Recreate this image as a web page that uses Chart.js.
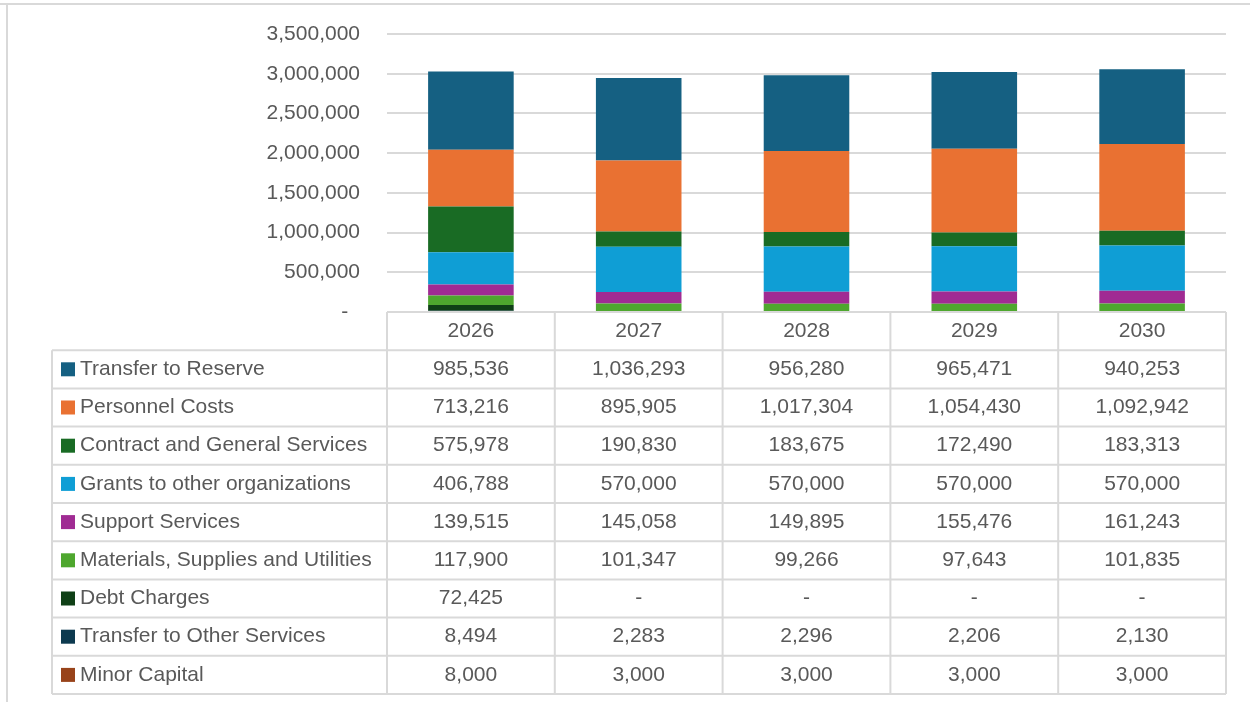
<!DOCTYPE html>
<html>
<head>
<meta charset="utf-8">
<script src="https://cdn.jsdelivr.net/npm/chart.js@4.4.1/dist/chart.umd.min.js"></script>
<style>
  html, body { margin: 0; padding: 0; background: #fff; }
  #wrap { width: 1250px; height: 702px; position: relative; }
</style>
</head>
<body>
<div id="wrap"><canvas id="myChart" width="1250" height="702"></canvas></div>
<script>
const years = ["2026", "2027", "2028", "2029", "2030"];
const yTicks = [0, 500000, 1000000, 1500000, 2000000, 2500000, 3000000, 3500000];

// table order (top row first) = top of stack first
const seriesNames = [
  "Transfer to Reserve",
  "Personnel Costs",
  "Contract and General Services",
  "Grants to other organizations",
  "Support Services",
  "Materials, Supplies and Utilities",
  "Debt Charges",
  "Transfer to Other Services",
  "Minor Capital",
];
const transferToReserve = [985536, 1036293, 956280, 965471, 940253];
const personnelCosts = [713216, 895905, 1017304, 1054430, 1092942];
const contractServices = [575978, 190830, 183675, 172490, 183313];
const grants = [406788, 570000, 570000, 570000, 570000];
const supportServices = [139515, 145058, 149895, 155476, 161243];
const materials = [117900, 101347, 99266, 97643, 101835];
const debtCharges = [72425, 0, 0, 0, 0];
const transferOther = [8494, 2283, 2296, 2206, 2130];
const minorCapital = [8000, 3000, 3000, 3000, 3000];

const seriesValues = [transferToReserve, personnelCosts, contractServices, grants,
  supportServices, materials, debtCharges, transferOther, minorCapital];
const seriesColors = ["#156082", "#e97132", "#196b24", "#0f9ed5", "#a02b93",
  "#4ea72e", "#0f4016", "#0d3a4f", "#98431a"];

const textColor = "#595959";
const lineColor = "#d9d9d9";
const fontFamily = "'Liberation Sans', Arial, sans-serif";
const fontSize = 21;

const fmt = (v) => v === 0 ? "-" : v.toLocaleString("en-US");

// stack bottom-first
const datasets = seriesNames.map((name, i) => ({
  label: name,
  data: seriesValues[i],
  backgroundColor: seriesColors[i],
  borderWidth: 0,
  categoryPercentage: 1,
  barPercentage: 0.51,
})).reverse();

const rowH = 38.2;
const tableLeft = 52;

const tablePlugin = {
  id: "dataTable",
  afterDraw(chart) {
    const c = chart.ctx;
    const x = chart.scales.x;
    const area = chart.chartArea;
    const colW = (area.right - area.left) / years.length;
    const top = area.bottom;
    c.save();
    // outer frame
    c.strokeStyle = lineColor;
    c.lineWidth = 2;
    c.beginPath();
    c.moveTo(0, 4); c.lineTo(1250, 4);
    c.moveTo(7, 4); c.lineTo(7, 702);
    c.stroke();

    // header row + grid
    c.beginPath();
    c.moveTo(area.left, top); c.lineTo(area.right, top);
    const bottom = top + rowH * (seriesNames.length + 1);
    for (let r = 1; r <= seriesNames.length + 1; r++) {
      const y = top + rowH * r;
      c.moveTo(tableLeft, y); c.lineTo(area.right, y);
    }
    for (let k = 0; k <= years.length; k++) {
      const xx = area.left + colW * k;
      c.moveTo(xx, top); c.lineTo(xx, bottom);
    }
    c.moveTo(tableLeft, top + rowH); c.lineTo(tableLeft, bottom);
    c.stroke();

    c.font = fontSize + "px " + fontFamily;
    c.fillStyle = textColor;
    c.textBaseline = "middle";
    c.textAlign = "center";
    years.forEach((yr, k) => {
      c.fillText(yr, x.getPixelForValue(k), top + rowH / 2);
    });
    seriesNames.forEach((name, r) => {
      const cy = top + rowH * (r + 1) + rowH / 2;
      c.fillStyle = seriesColors[r];
      c.fillRect(61, cy - 7, 14, 14);
      c.fillStyle = textColor;
      c.textAlign = "left";
      c.fillText(name, 80, cy);
      c.textAlign = "center";
      seriesValues[r].forEach((v, k) => {
        c.fillText(fmt(v), x.getPixelForValue(k), cy);
      });
    });
    c.restore();
  },
};

const ctx = document.getElementById("myChart");

new Chart(ctx, {
  type: "bar",
  data: { labels: years, datasets: datasets },
  options: {
    responsive: false,
    animation: false,
    layout: { padding: { top: 34, right: 24, bottom: 390, left: 0 } },
    plugins: {
      legend: { display: false },
      tooltip: { enabled: false },
    },
    scales: {
      x: {
        stacked: true,
        display: false,
      },
      y: {
        stacked: true,
        min: 0,
        max: 3500000,
        afterFit(scale) {
          scale.width = 387;
          scale.paddingTop = 0;
          scale.paddingBottom = 0;
        },
        afterBuildTicks(scale) { scale.ticks = yTicks.map((v) => ({ value: v })); },
        border: { display: false },
        grid: { color: lineColor, lineWidth: 2, drawTicks: false },
        ticks: {
          padding: 27,
          color: textColor,
          font: { family: fontFamily, size: fontSize },
          callback: (v) => v === 0 ? "-  " : v.toLocaleString("en-US"),
        },
      },
    },
  },
  plugins: [tablePlugin],
});
</script>
</body>
</html>
